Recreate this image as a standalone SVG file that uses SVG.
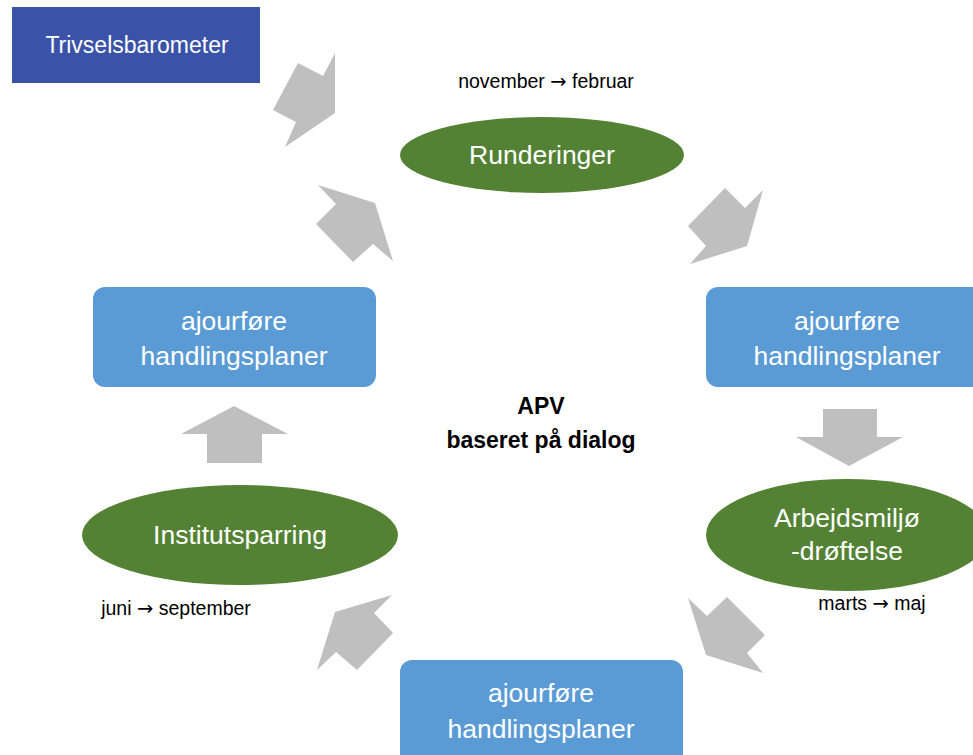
<svg xmlns="http://www.w3.org/2000/svg" width="973" height="755" viewBox="0 0 973 755">
<style>
.arrow{fill:#BFBFBF}
.box{fill:#5B9BD5}
.ell{fill:#548235}
.wt{fill:#FFFFFF;font-family:"Liberation Sans",Arial,sans-serif;font-size:26.5px;text-anchor:middle}
.lbl{fill:#000000;font-family:"Liberation Sans",Arial,sans-serif;font-size:19.5px;text-anchor:middle}
.ar{font-family:"DejaVu Sans",sans-serif}
.ctr{fill:#000000;font-family:"Liberation Sans",Arial,sans-serif;font-size:23px;font-weight:bold;text-anchor:middle}
</style>
<rect width="973" height="755" fill="#FFFFFF"/>
<g id="connectors">
<polygon class="arrow" points="298,63 323,76 335,53 335,113 285,147 296,122 273,110"/>
<polygon class="arrow" points="375,203 393,261 373,244 353,262 316,224 336,204 318,185"/>
<polygon class="arrow" points="725,188 745,208 763,190 747,246 690,264 706,246 688,226"/>
<polygon class="arrow" points="823,409 877,409 877,437 903,437 849,466 796,437 823,437"/>
<polygon class="arrow" points="706,655 688,598 707,616 727,597 765,635 747,653 763,673"/>
<polygon class="arrow" points="335,612 392,595 374,613 393,633 357,670 336,652 317,670"/>
<polygon class="arrow" points="234,406 288,434 262,434 262,463 207,463 207,434 181,434"/>
</g>
<g id="trivselsbarometer">
<rect x="12" y="7" width="248" height="76" fill="#3A53A8"/>
<text class="wt" x="137" y="53" style="font-size:23px">Trivselsbarometer</text>
</g>
<g id="runderinger">
<ellipse class="ell" cx="542" cy="155" rx="142" ry="38"/>
<text class="wt" x="542" y="164">Runderinger</text>
</g>
<g id="label-nov">
<text class="lbl" x="546" y="88">november <tspan class="ar">→</tspan> februar</text>
</g>
<g id="ajour-right">
<rect class="box" x="706" y="287" width="283" height="100" rx="12"/>
<text class="wt" x="847" y="330">ajourføre</text>
<text class="wt" x="847" y="365">handlingsplaner</text>
</g>
<g id="arbejdsmiljo">
<ellipse class="ell" cx="847" cy="535" rx="141" ry="56"/>
<text class="wt" x="847" y="527">Arbejdsmiljø</text>
<text class="wt" x="847" y="560">-drøftelse</text>
</g>
<g id="label-marts">
<text class="lbl" x="872" y="610">marts <tspan class="ar">→</tspan> maj</text>
</g>
<g id="ajour-bottom">
<rect class="box" x="400" y="660" width="283" height="110" rx="12"/>
<text class="wt" x="541" y="702">ajourføre</text>
<text class="wt" x="541" y="738">handlingsplaner</text>
</g>
<g id="institutsparring">
<ellipse class="ell" cx="240" cy="535" rx="158" ry="50"/>
<text class="wt" x="240" y="544">Institutsparring</text>
</g>
<g id="label-juni">
<text class="lbl" x="176" y="615">juni <tspan class="ar">→</tspan> september</text>
</g>
<g id="ajour-left">
<rect class="box" x="93" y="287" width="283" height="100" rx="12"/>
<text class="wt" x="234" y="330">ajourføre</text>
<text class="wt" x="234" y="365">handlingsplaner</text>
</g>
<g id="center">
<text class="ctr" x="541" y="414">APV</text>
<text class="ctr" x="541" y="448">baseret på dialog</text>
</g>
</svg>
